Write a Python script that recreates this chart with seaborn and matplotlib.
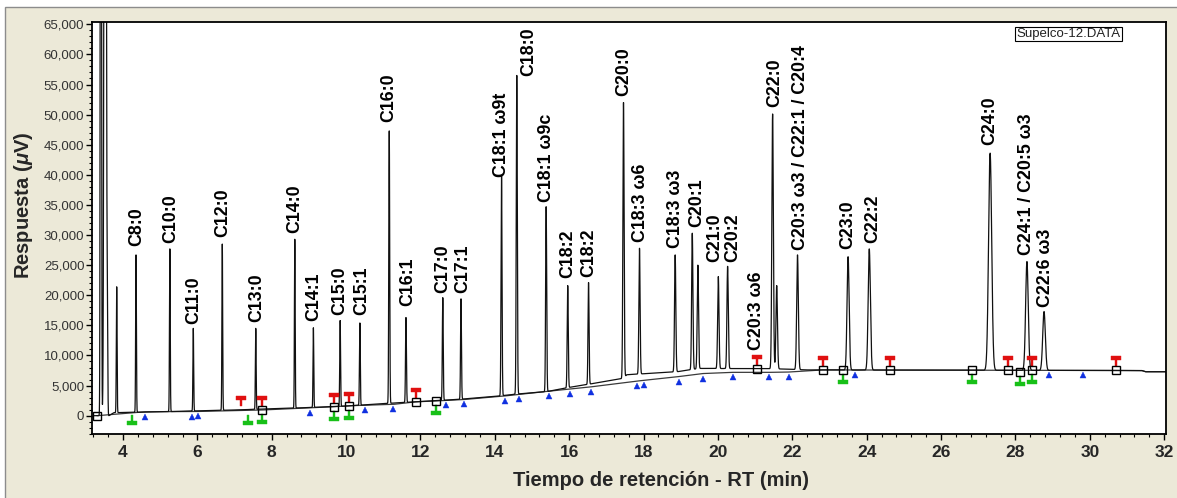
import numpy as np
import pandas as pd
import seaborn as sns
import matplotlib
matplotlib.use("Agg")
import matplotlib.pyplot as plt
from matplotlib.ticker import MultipleLocator, StrMethodFormatter
from matplotlib.transforms import offset_copy
from matplotlib.patches import Rectangle

# ---------------- data ----------------
peak_rt = [3.405, 3.52, 3.58, 3.83, 4.35, 5.26, 5.89, 6.67, 7.57, 8.62, 9.12, 9.84,
           10.37, 11.16, 11.61, 12.60, 13.09, 14.18, 14.59, 15.38, 15.96, 16.52,
           17.46, 17.89, 18.85, 19.31, 19.46, 20.01, 20.26, 21.47, 21.58, 22.14,
           23.50, 24.07, 27.32, 28.31, 28.77]
peak_apex = [300000, 300000, 15600, 21400, 26700, 27700, 14500, 28500, 14500, 29300,
             14600, 15800, 15400, 47300, 16300, 19600, 19400, 39800, 56500, 34700,
             21600, 22100, 52000, 27800, 26700, 30300, 25000, 23100, 24800, 50100,
             21600, 26700, 26400, 27700, 43600, 25600, 17300]
peak_sigma = [0.012, 0.022, 0.010, 0.010, 0.010, 0.010, 0.010, 0.010, 0.010, 0.010,
              0.010, 0.011, 0.011, 0.012, 0.012, 0.012, 0.012, 0.013, 0.014, 0.014,
              0.014, 0.014, 0.016, 0.016, 0.017, 0.017, 0.017, 0.018, 0.018, 0.020,
              0.020, 0.022, 0.028, 0.030, 0.042, 0.035, 0.035]

# signal baseline (drift) and integration baseline
sig_t = [3.22, 3.62, 3.75, 5.0, 6.0, 7.0, 8.0, 9.0, 10.0, 11.0, 12.0, 13.0, 14.0, 14.6,
         15.4, 16.0, 16.5, 17.45, 17.55, 18.9, 19.5, 21.5, 22.4, 31.4, 31.5, 32.1]
sig_y = [0, 0, 500, 650, 800, 950, 1150, 1350, 1600, 2000, 2350, 2700, 3200, 3600,
         4000, 4700, 5200, 6200, 6800, 7300, 7850, 7800, 7600, 7500, 7300, 7300]
int_t = [3.3, 4.6, 6.0, 7.75, 9.0, 9.7, 10.1, 11.3, 11.87, 12.42, 13.2, 14.3, 15.5,
         16.6, 17.9, 18.95, 19.6, 20.4, 21.4, 21.9, 22.82, 31.4, 31.5, 32.1]
int_y = [0, 650, 700, 950, 1300, 1500, 1650, 1900, 2300, 2450, 2700, 3300, 4100,
         4800, 5800, 6500, 7000, 7200, 7200, 7250, 7600, 7500, 7300, 7300]

# peak labels
label_text = ["C8:0", "C10:0", "C11:0", "C12:0", "C13:0", "C14:0", "C14:1", "C15:0",
              "C15:1", "C16:0", "C16:1", "C17:0", "C17:1", "C18:1 ω9t", "C18:0",
              "C18:1 ω9c", "C18:2", "C18:2", "C20:0", "C18:3 ω6", "C18:3 ω3", "C20:1",
              "C21:0", "C20:2", "C20:3 ω6", "C22:0", "C20:3 ω3 / C22:1 / C20:4",
              "C23:0", "C22:2", "C24:0", "C24:1 / C20:5 ω3", "C22:6 ω3"]
label_x = [4.38, 5.28, 5.91, 6.67, 7.61, 8.63, 9.14, 9.84, 10.42, 11.16, 11.65, 12.61,
           13.15, 14.17, 14.90, 15.38, 15.96, 16.53, 17.48, 17.92, 18.86, 19.43, 19.91,
           20.39, 21.03, 21.54, 22.21, 23.50, 24.15, 27.32, 28.31, 28.81]
label_y = [28100, 28700, 15300, 29600, 15600, 30300, 15800, 16700, 16700, 48800, 18200,
           20300, 20400, 39700, 56400, 35500, 22800, 23000, 53100, 28900, 27800, 31400,
           25600, 25600, 10900, 51200, 27500, 27600, 28700, 45000, 26700, 18000]

# integration event markers
square_t = [3.31, 7.75, 9.68, 10.09, 11.87, 12.42, 21.04, 22.82, 23.36, 24.63, 26.83,
            27.79, 28.13, 28.44, 30.71]
square_y = [0, 950, 1500, 1650, 2300, 2500, 7750, 7600, 7600, 7600, 7600, 7600, 7300,
            7600, 7600]
red_t = [7.17, 7.75, 9.68, 10.09, 11.87, 21.04, 22.82, 24.63, 27.79, 28.44, 30.71]
red_y = [900, 950, 1500, 1650, 2300, 7750, 7600, 7600, 7600, 7600, 7600]
green_t = [4.23, 7.37, 7.75, 9.68, 10.09, 12.42, 23.36, 26.83, 28.13, 28.44]
green_y = [700, 850, 950, 1500, 1650, 2500, 7600, 7600, 7300, 7600]
blue_t = [4.59, 5.85, 6.03, 9.03, 10.51, 11.27, 12.68, 13.18, 14.27, 14.65, 15.46,
          16.02, 16.59, 17.83, 18.01, 18.94, 19.59, 20.40, 21.36, 21.92, 23.69, 28.91,
          29.81]

x_ticks = list(range(4, 33, 2))
y_ticks = list(range(0, 65001, 5000))

# ---------------- style ----------------
sns.set_style("white")
plt.rcParams["font.family"] = ["Liberation Sans", "DejaVu Sans"]
plt.rcParams["mathtext.fontset"] = "custom"
plt.rcParams["mathtext.it"] = "Liberation Sans:italic:bold"
plt.rcParams["mathtext.rm"] = "Liberation Sans:bold"
plt.rcParams["mathtext.bf"] = "Liberation Sans:bold"

W, H = 1177, 498
fig = plt.figure(figsize=(W / 100, H / 100), dpi=100, facecolor="white")
fig.patches.append(Rectangle((5 / W, -0.01), 1.0, 1 - 7 / H + 0.01,
                             transform=fig.transFigure, facecolor="#ECE9D8",
                             edgecolor="#8c8c8c", lw=1.0, zorder=-10))
ax = fig.add_axes([92 / W, (H - 434) / H, (1166 - 92) / W, (434 - 22) / H])
ax.set_zorder(2)
ax.set_facecolor("white")

# ---------------- trace ----------------
t = np.linspace(sig_t[0], 32.1, 80001)
signal = np.interp(t, sig_t, sig_y)
for rt, apex, s in zip(peak_rt, peak_apex, peak_sigma):
    amp = apex - np.interp(rt, sig_t, sig_y)
    signal = signal + amp * np.exp(-0.5 * ((t - rt) / s) ** 2)
trace = pd.DataFrame({"t": t, "signal": signal})

sns.lineplot(data=pd.DataFrame({"t": int_t, "y": int_y}), x="t", y="y", ax=ax,
             color="#3a3a3a", lw=0.9, estimator=None, sort=False)
sns.lineplot(data=trace, x="t", y="signal", ax=ax, color="#111111", lw=0.9,
             estimator=None, sort=False)

# ---------------- markers ----------------
pin_down = [(-1, 1), (1, 1), (1, 0.3), (0.3, 0.3), (0.3, -1), (-0.3, -1),
            (-0.3, 0.3), (-1, 0.3), (-1, 1)]
pin_up = [(x, -y) for x, y in pin_down]
tr_red = offset_copy(ax.transData, fig=fig, x=0, y=9, units="dots")
tr_green = offset_copy(ax.transData, fig=fig, x=0, y=-9, units="dots")
tr_blue = offset_copy(ax.transData, fig=fig, x=0, y=-5, units="dots")

ax.plot(red_t, red_y, ls="none", marker=pin_down, ms=6.5, mfc="#e01010", mec="#e01010",
        mew=0.3, transform=tr_red, zorder=4)
ax.plot(green_t, green_y, ls="none", marker=pin_up, ms=6.5, mfc="#18c018", mec="#18c018",
        mew=0.3, transform=tr_green, zorder=4)
blue_y = np.interp(blue_t, int_t, int_y)
ax.plot(blue_t, blue_y, ls="none", marker="^", ms=4.5, mfc="#1030e0", mec="#1030e0",
        mew=0.3, transform=tr_blue, zorder=4)
ax.plot(square_t, square_y, ls="none", marker="s", ms=5.5, mfc="none", mec="black",
        mew=1.0, zorder=5)

# ---------------- labels ----------------
for txt, lx, ly in zip(label_text, label_x, label_y):
    ax.text(lx, ly, txt, rotation=90, ha="center", va="bottom", fontsize=12.8,
            fontweight="bold", color="black")

ax.text(0.909, 0.971, "Supelco-12.DATA", transform=ax.transAxes, ha="center",
        va="center", fontsize=9.5, color="#222222",
        bbox=dict(boxstyle="square,pad=0.1", fc="white", ec="black", lw=0.8))

# ---------------- axes ----------------
ax.set_xlim(3.166, 32.05)
ax.set_ylim(-3040, 65380)
ax.set_xticks(x_ticks)
ax.set_yticks(y_ticks)
ax.xaxis.set_minor_locator(MultipleLocator(0.4))
ax.yaxis.set_minor_locator(MultipleLocator(1000))
ax.yaxis.set_major_formatter(StrMethodFormatter("{x:,.0f}"))
ax.tick_params(axis="x", which="major", direction="out", length=4, width=1.0,
               pad=4, labelsize=12.5, color="black")
ax.tick_params(axis="x", which="minor", direction="out", length=2.5, width=0.8,
               color="black")
ax.tick_params(axis="y", which="major", direction="out", length=4, width=1.0,
               pad=1.5, labelsize=9.5, labelcolor="#333333", color="black")
ax.tick_params(axis="y", which="minor", direction="out", length=2.5, width=0.8,
               color="black")
ax.tick_params(bottom=True, left=True, which="both")
for lab in ax.get_xticklabels():
    lab.set_fontweight("bold")
for sp in ax.spines.values():
    sp.set_visible(True)
    sp.set_color("black")
    sp.set_linewidth(1.3)

ax.set_xlabel("Tiempo de retención - RT (min)", fontsize=14.5, fontweight="bold")
ax.set_ylabel("Respuesta ($\\mu$V)", fontsize=14.5, fontweight="bold")
ax.xaxis.set_label_coords(0.530, -0.112)
ax.yaxis.set_label_coords(-0.0638, 0.556)
ax.xaxis.label.set_va("center")
ax.yaxis.label.set_va("center")

fig.savefig("out.png", dpi=100, facecolor=fig.get_facecolor())
